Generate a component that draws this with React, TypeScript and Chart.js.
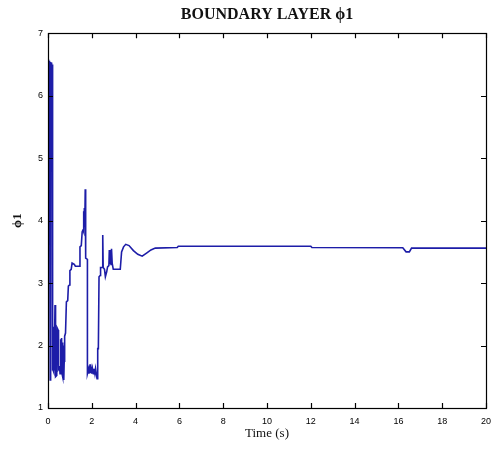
import React, { useEffect, useRef } from "react";
import { Chart, registerables } from "chart.js";

Chart.register(...registerables);

const chartTitle = "BOUNDARY LAYER \u03D51";
const xAxisTitle = "Time (s)";
const yAxisTitle = "\u03D51";
const xTicks = [0, 2, 4, 6, 8, 10, 12, 14, 16, 18, 20];
const yTicks = [1, 2, 3, 4, 5, 6, 7];

const timeValues = [
  0, 0.01, 0.02, 0.03, 0.04, 0.05, 0.06, 0.07, 0.08, 0.1, 0.11, 0.12, 0.13, 0.14, 0.15, 0.16, 0.17, 0.18, 0.19, 0.2,
  0.21, 0.22, 0.24, 0.25, 0.27, 0.28, 0.3, 0.31, 0.32, 0.33, 0.36, 0.4, 0.42, 0.46, 0.48, 0.53, 0.55, 0.58, 0.6, 0.62,
  0.64, 0.66, 0.68, 0.7, 0.72, 0.74, 0.76, 0.8, 0.84, 0.9, 0.93, 0.98, 1.0, 1.06, 1.1, 1.2, 1.25, 1.42, 1.46, 1.52,
  1.56, 1.6, 1.62, 1.64, 1.66, 1.68, 1.7, 1.72, 1.8, 1.8, 1.85, 1.87, 1.9, 1.92, 1.94, 1.97, 2.0, 2.03, 2.07, 2.1,
  2.14, 2.17, 2.2, 2.24, 2.27, 2.3, 2.33, 2.38, 2.4, 2.47, 2.5, 2.52, 2.58, 2.62, 2.68, 2.72, 2.78, 2.8, 2.83, 2.85,
  2.88, 2.9, 2.93, 2.98, 3.3, 3.36, 3.45, 3.55, 3.7, 3.9, 4.1, 4.3, 4.5, 4.7, 4.9, 5.9, 5.95, 12, 12.05, 16.2,
  16.35, 16.5, 16.6, 20,
];
const phiValues = [
  5.4, 6.58, 5.42, 6.57, 5.45, 6.56, 5.45, 6.55, 5.45, 1.45, 5.45, 6.54, 5.5, 6.53, 5.5, 6.52, 5.55, 6.5, 5.6, 6.5,
  1.6, 2.28, 1.6, 2.3, 1.58, 2.28, 1.6, 2.25, 2.65, 2.6, 1.5, 1.52, 2.28, 2.25, 1.62, 1.65, 1.55, 2.1, 1.6, 2.12,
  1.55, 2.05, 1.5, 2.0, 1.45, 1.75, 2.15, 2.2, 2.7, 2.72, 2.95, 2.97, 3.2, 3.22, 3.32, 3.3, 3.27, 3.27, 3.58, 3.6,
  3.82, 3.85, 4.15, 3.82, 4.2, 3.9, 4.5, 3.4, 3.38, 1.55, 1.62, 1.55, 1.63, 1.7, 1.56, 1.63, 1.55, 1.63, 1.55, 1.63,
  1.55, 1.63, 1.56, 1.47, 1.95, 1.95, 3.1, 3.12, 3.25, 3.25, 3.77, 3.25, 3.22, 3.1, 3.18, 3.26, 3.28, 3.53, 3.3, 3.53,
  3.3, 3.55, 3.32, 3.22, 3.22, 3.5, 3.58, 3.62, 3.6, 3.52, 3.46, 3.43, 3.48, 3.53, 3.56, 3.57, 3.59, 3.59, 3.57, 3.565,
  3.5, 3.5, 3.56, 3.56,
];

const boxPlugin = {
  id: "matlabBox",
  afterDraw(chart: any) {
    const { ctx, chartArea } = chart;
    const xs = chart.scales.x;
    const ys = chart.scales.y;
    const { left, right, top, bottom } = chartArea;
    const len = 5;
    ctx.save();
    ctx.strokeStyle = "#000";
    ctx.lineWidth = 1.2;
    ctx.strokeRect(Math.round(left) + 0.5, Math.round(top) + 0.5, Math.round(right - left), Math.round(bottom - top));
    ctx.beginPath();
    xTicks.forEach((t) => {
      const px = Math.round(xs.getPixelForValue(t)) + 0.5;
      ctx.moveTo(px, bottom);
      ctx.lineTo(px, bottom - len);
      ctx.moveTo(px, top);
      ctx.lineTo(px, top + len);
    });
    yTicks.forEach((v) => {
      const py = Math.round(ys.getPixelForValue(v)) + 0.5;
      ctx.moveTo(left, py);
      ctx.lineTo(left + len, py);
      ctx.moveTo(right, py);
      ctx.lineTo(right - len, py);
    });
    ctx.stroke();
    ctx.restore();
  },
};

export default function App() {
  const ref = useRef<HTMLCanvasElement | null>(null);
  useEffect(() => {
    if (!ref.current) return;
    const points = timeValues.map((t, i) => ({ x: t, y: phiValues[i] }));
    const chart = new Chart(ref.current, {
      type: "line",
      data: {
        datasets: [
          {
            data: points,
            borderColor: "#1d1da8",
            borderWidth: 1.6,
            pointRadius: 0,
            tension: 0,
            fill: false,
          },
        ],
      },
      options: {
        responsive: false,
        animation: false,
        layout: { padding: { left: 0, right: 6, top: 0, bottom: 0 } },
        plugins: {
          legend: { display: false },
          tooltip: { enabled: false },
          title: {
            display: true,
            text: chartTitle,
            fullSize: false,
            color: "#111",
            font: { family: "'Liberation Serif', serif", size: 16, weight: "bold" },
            padding: { top: 5, bottom: 9 },
          },
        },
        scales: {
          x: {
            type: "linear",
            min: 0,
            max: 20,
            afterFit: (s: any) => {
              s.height = 44;
              s.paddingRight = 0;
              s.paddingLeft = 0;
            },
            afterBuildTicks: (s: any) => {
              s.ticks = xTicks.map((v) => ({ value: v }));
            },
            grid: { display: false, drawTicks: false },
            border: { display: false },
            ticks: {
              color: "#000",
              padding: 8,
              maxRotation: 0,
              font: { family: "'Liberation Sans', sans-serif", size: 9 },
            },
            title: {
              display: true,
              text: xAxisTitle,
              color: "#111",
              font: { family: "'Liberation Serif', serif", size: 13 },
              padding: { top: 0, bottom: 11 },
            },
          },
          y: {
            type: "linear",
            min: 1,
            max: 7,
            afterFit: (s: any) => {
              s.width = 48;
              s.paddingTop = 0;
              s.paddingBottom = 0;
            },
            afterBuildTicks: (s: any) => {
              s.ticks = yTicks.map((v) => ({ value: v }));
            },
            grid: { display: false, drawTicks: false },
            border: { display: false },
            ticks: {
              color: "#000",
              padding: 5,
              font: { family: "'Liberation Sans', sans-serif", size: 9 },
            },
            title: {
              display: true,
              text: yAxisTitle,
              color: "#111",
              font: { family: "'Liberation Serif', serif", size: 13, weight: "bold" },
              padding: { top: 10, bottom: 0 },
            },
          },
        },
      },
      plugins: [boxPlugin],
    });
    return () => chart.destroy();
  }, []);
  return (
    <div style={{ position: "absolute", left: 0, top: 0, width: 492, height: 452, background: "#fff" }}>
      <canvas ref={ref} width={492} height={452} style={{ display: "block" }} />
    </div>
  );
}
